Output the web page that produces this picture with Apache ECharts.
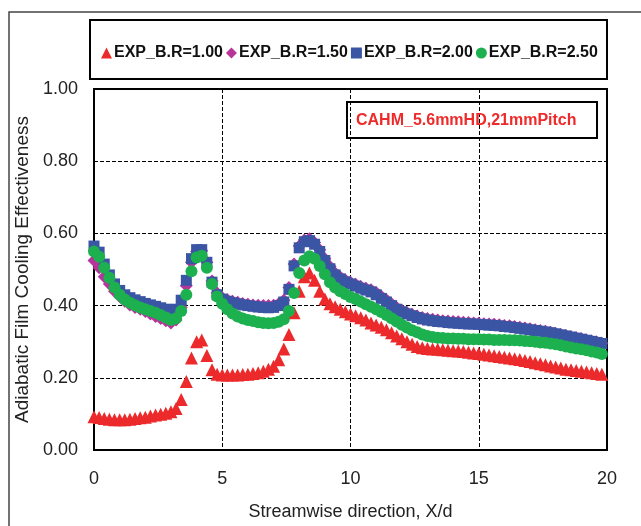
<!DOCTYPE html>
<html>
<head>
<meta charset="utf-8">
<script src="https://cdn.jsdelivr.net/npm/echarts@6/dist/echarts.min.js"></script>
<style>
  html, body { margin: 0; padding: 0; background: #fff; }
  #chart { width: 641px; height: 526px; }
</style>
</head>
<body>
<div id="chart"></div>
<script>
// X/d positions (shared by all series)
const xPos = [
  0.0, 0.2, 0.4, 0.6, 0.8, 1.0, 1.2, 1.4, 1.6, 1.8, 2.0, 2.2, 2.4, 2.6, 2.8, 3.0, 3.2, 3.4, 3.6, 3.8,
  4.0, 4.2, 4.4, 4.6, 4.8, 5.0, 5.2, 5.4, 5.6, 5.8, 6.0, 6.2, 6.4, 6.6, 6.8, 7.0, 7.2, 7.4, 7.6, 7.8,
  8.0, 8.2, 8.4, 8.6, 8.8, 9.0, 9.2, 9.4, 9.6, 9.8, 10.0, 10.2, 10.4, 10.6, 10.8, 11.0, 11.2, 11.4, 11.6, 11.8,
  12.0, 12.2, 12.4, 12.6, 12.8, 13.0, 13.2, 13.4, 13.6, 13.8, 14.0, 14.2, 14.4, 14.6, 14.8, 15.0, 15.2, 15.4, 15.6, 15.8,
  16.0, 16.2, 16.4, 16.6, 16.8, 17.0, 17.2, 17.4, 17.6, 17.8, 18.0, 18.2, 18.4, 18.6, 18.8, 19.0, 19.2, 19.4, 19.6, 19.8
];

// B.R = 1.00
const br100 = [
  0.092, 0.090, 0.087, 0.085, 0.084, 0.084, 0.084, 0.085, 0.087, 0.089, 0.091, 0.094, 0.097, 0.099, 0.102, 0.106, 0.115, 0.140, 0.190, 0.255,
  0.300, 0.305, 0.262, 0.222, 0.210, 0.208, 0.208, 0.208, 0.208, 0.209, 0.210, 0.212, 0.214, 0.218, 0.224, 0.232, 0.250, 0.280, 0.320, 0.380,
  0.440, 0.480, 0.490, 0.470, 0.440, 0.418, 0.405, 0.397, 0.390, 0.383, 0.377, 0.372, 0.366, 0.360, 0.352, 0.346, 0.340, 0.333, 0.325, 0.316,
  0.308, 0.300, 0.293, 0.287, 0.283, 0.281, 0.280, 0.279, 0.278, 0.276, 0.275, 0.274, 0.273, 0.271, 0.269, 0.267, 0.265, 0.263, 0.261, 0.259,
  0.257, 0.255, 0.253, 0.251, 0.248, 0.245, 0.242, 0.239, 0.236, 0.233, 0.230, 0.227, 0.224, 0.222, 0.220, 0.218, 0.216, 0.214, 0.212, 0.210
];

// B.R = 1.50
const br150 = [
  0.525, 0.505, 0.480, 0.460, 0.440, 0.425, 0.412, 0.402, 0.395, 0.390, 0.384, 0.377, 0.370, 0.364, 0.358, 0.352, 0.360, 0.395, 0.455, 0.520,
  0.550, 0.552, 0.520, 0.468, 0.435, 0.422, 0.416, 0.412, 0.409, 0.406, 0.404, 0.402, 0.401, 0.400, 0.400, 0.401, 0.405, 0.415, 0.450, 0.515,
  0.565, 0.582, 0.585, 0.575, 0.555, 0.530, 0.508, 0.490, 0.479, 0.471, 0.465, 0.459, 0.453, 0.448, 0.444, 0.436, 0.426, 0.416, 0.405, 0.395,
  0.387, 0.381, 0.376, 0.371, 0.367, 0.364, 0.362, 0.360, 0.358, 0.357, 0.356, 0.355, 0.354, 0.353, 0.352, 0.351, 0.350, 0.349, 0.348, 0.347,
  0.345, 0.344, 0.342, 0.340, 0.338, 0.336, 0.333, 0.331, 0.329, 0.326, 0.323, 0.320, 0.317, 0.314, 0.311, 0.308, 0.305, 0.302, 0.299, 0.296
];

// B.R = 2.00
const br200 = [
  0.565, 0.548, 0.515, 0.485, 0.460, 0.442, 0.430, 0.422, 0.416, 0.411, 0.406, 0.402, 0.398, 0.394, 0.390, 0.385, 0.390, 0.415, 0.470, 0.530,
  0.555, 0.555, 0.520, 0.465, 0.430, 0.418, 0.412, 0.408, 0.405, 0.402, 0.400, 0.398, 0.396, 0.395, 0.394, 0.395, 0.400, 0.410, 0.445, 0.510,
  0.560, 0.577, 0.580, 0.570, 0.550, 0.525, 0.502, 0.485, 0.474, 0.466, 0.460, 0.454, 0.448, 0.443, 0.438, 0.430, 0.420, 0.410, 0.400, 0.390,
  0.383, 0.377, 0.372, 0.367, 0.363, 0.360, 0.358, 0.356, 0.355, 0.353, 0.352, 0.351, 0.350, 0.349, 0.349, 0.348, 0.347, 0.346, 0.345, 0.344,
  0.342, 0.341, 0.339, 0.337, 0.335, 0.333, 0.331, 0.329, 0.327, 0.325, 0.322, 0.319, 0.316, 0.313, 0.310, 0.307, 0.304, 0.301, 0.298, 0.295
];

// B.R = 2.50
const br250 = [
  0.550, 0.535, 0.505, 0.477, 0.450, 0.430, 0.417, 0.408, 0.401, 0.395, 0.390, 0.385, 0.380, 0.374, 0.367, 0.360, 0.365, 0.385, 0.430, 0.495,
  0.533, 0.538, 0.505, 0.460, 0.425, 0.405, 0.390, 0.378, 0.370, 0.364, 0.360, 0.357, 0.354, 0.352, 0.351, 0.352, 0.355, 0.362, 0.385, 0.435,
  0.490, 0.525, 0.537, 0.530, 0.510, 0.487, 0.465, 0.450, 0.440, 0.432, 0.424, 0.418, 0.411, 0.404, 0.397, 0.390, 0.382, 0.374, 0.365, 0.356,
  0.347, 0.339, 0.332, 0.326, 0.320, 0.316, 0.313, 0.311, 0.310, 0.309, 0.309, 0.308, 0.308, 0.307, 0.307, 0.307, 0.306, 0.306, 0.305, 0.305,
  0.305, 0.304, 0.304, 0.303, 0.302, 0.301, 0.300, 0.298, 0.297, 0.295, 0.293, 0.290, 0.287, 0.284, 0.281, 0.279, 0.276, 0.273, 0.270, 0.266
];

const FONT = '"Liberation Sans", Arial, sans-serif';

function pairs(ys) {
  return xPos.map((x, i) => [x, ys[i]]);
}

function scatter(name, ys, symbol, size, color) {
  return {
    name: name,
    type: 'scatter',
    symbol: symbol,
    symbolSize: size,
    itemStyle: { color: color, opacity: 1 },
    data: pairs(ys),
    silent: true
  };
}

let myChart = echarts.init(document.getElementById('chart'));

let option = {
  backgroundColor: '#fff',
  animation: false,
  textStyle: { fontFamily: FONT },
  graphic: [
    // outer frame
    { type: 'rect', shape: { x: 9, y: 12, width: 700, height: 600 },
      style: { fill: 'none', stroke: '#444', lineWidth: 1.5 } },
    // legend box
    { type: 'rect', shape: { x: 90, y: 20, width: 517, height: 59 },
      style: { fill: 'none', stroke: '#000', lineWidth: 2 } },
    // annotation box
    { type: 'rect', shape: { x: 347, y: 102, width: 250, height: 36 },
      style: { fill: 'none', stroke: '#000', lineWidth: 2 }, z: 100 },
    { type: 'text', x: 356, y: 121, z: 100,
      style: { text: 'CAHM_5.6mmHD,21mmPitch', fill: '#ee2a2a',
               font: 'bold 16px ' + FONT, verticalAlign: 'middle' } }
  ],
  legend: {
    left: 96,
    top: 40,
    itemWidth: 11,
    itemHeight: 11,
    itemGap: 3,
    textStyle: { fontFamily: FONT, fontSize: 16, fontWeight: 'bold', color: '#111', padding: [0, 0, 0, -3] },
    data: [
      { name: 'EXP_B.R=1.00', icon: 'triangle' },
      { name: 'EXP_B.R=1.50', icon: 'diamond' },
      { name: 'EXP_B.R=2.00', icon: 'rect' },
      { name: 'EXP_B.R=2.50', icon: 'circle' }
    ]
  },
  grid: {
    left: 94, right: 34, top: 89, bottom: 70,
    show: true, borderColor: '#000', borderWidth: 2
  },
  xAxis: {
    type: 'value',
    min: 0, max: 20, interval: 5,
    name: 'Streamwise direction, X/d',
    nameLocation: 'middle',
    nameGap: 53,
    nameTextStyle: { fontFamily: FONT, fontSize: 18, color: '#222' },
    axisLine: { show: true, lineStyle: { color: '#000', width: 2 } },
    axisTick: { show: false },
    axisLabel: { margin: 20, fontFamily: FONT, fontSize: 18, color: '#222' },
    splitLine: { show: true, lineStyle: { color: '#000', type: 'dashed', width: 1 } }
  },
  yAxis: {
    type: 'value',
    min: 0, max: 1, interval: 0.2,
    name: 'Adiabatic Film Cooling Effectiveness',
    nameLocation: 'middle',
    nameGap: 59,
    nameTextStyle: { fontFamily: FONT, fontSize: 19, color: '#222' },
    axisLine: { show: true, lineStyle: { color: '#000', width: 2 } },
    axisTick: { show: false },
    axisLabel: { margin: 16, fontFamily: FONT, fontSize: 18, color: '#222',
                 formatter: v => v.toFixed(2) },
    splitLine: { show: true, lineStyle: { color: '#000', type: 'dashed', width: 1 } }
  },
  series: [
    scatter('EXP_B.R=1.00', br100, 'triangle', 13, '#ec2a2b'),
    scatter('EXP_B.R=1.50', br150, 'diamond', 13, '#b7349b'),
    scatter('EXP_B.R=2.00', br200, 'rect', 11, '#3a55a4'),
    scatter('EXP_B.R=2.50', br250, 'circle', 12, '#1db04f')
  ]
};

myChart.setOption(option);
</script>
</body>
</html>
